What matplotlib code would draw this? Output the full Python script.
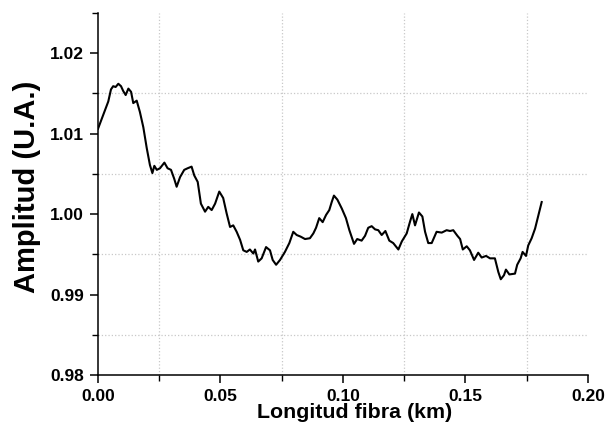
import matplotlib

matplotlib.use('Agg')
import numpy as np
import matplotlib.pyplot as plt
from matplotlib.ticker import MultipleLocator

plt.rcParams['font.family'] = ['Liberation Sans', 'DejaVu Sans']
plt.rcParams['font.weight'] = 'bold'

# fibre length (km) and normalised amplitude
longitud = [0.0000, 0.0042, 0.0053, 0.0062, 0.0072, 0.0083, 0.0094, 0.0103, 0.0113, 0.0124,
            0.0135, 0.0144, 0.0158, 0.0171, 0.0185, 0.0199, 0.0212, 0.0222, 0.0230, 0.0240,
            0.0253, 0.0271, 0.0284, 0.0298, 0.0311, 0.0321, 0.0335, 0.0352, 0.0366, 0.0382,
            0.0393, 0.0407, 0.0420, 0.0437, 0.0450, 0.0464, 0.0478, 0.0495, 0.0511, 0.0525,
            0.0539, 0.0552, 0.0566, 0.0580, 0.0593, 0.0607, 0.0620, 0.0634, 0.0641, 0.0654,
            0.0668, 0.0686, 0.0702, 0.0713, 0.0727, 0.0743, 0.0763, 0.0781, 0.0797, 0.0811,
            0.0827, 0.0845, 0.0865, 0.0879, 0.0890, 0.0903, 0.0917, 0.0931, 0.0944, 0.0954,
            0.0963, 0.0977, 0.0995, 0.1012, 0.1026, 0.1045, 0.1058, 0.1076, 0.1090, 0.1103,
            0.1117, 0.1131, 0.1144, 0.1158, 0.1173, 0.1189, 0.1205, 0.1226, 0.1240, 0.1260,
            0.1273, 0.1283, 0.1294, 0.1310, 0.1324, 0.1335, 0.1348, 0.1362, 0.1382, 0.1403,
            0.1423, 0.1437, 0.1450, 0.1467, 0.1478, 0.1489, 0.1505, 0.1518, 0.1535, 0.1552,
            0.1566, 0.1584, 0.1600, 0.1620, 0.1634, 0.1644, 0.1657, 0.1665, 0.1679, 0.1702,
            0.1711, 0.1725, 0.1733, 0.1747, 0.1756, 0.1770, 0.1784, 0.1811]
amplitud = [1.0106, 1.0140, 1.0155, 1.0159, 1.0158, 1.0162, 1.0159, 1.0153, 1.0148, 1.0156,
            1.0152, 1.0138, 1.0141, 1.0127, 1.0108, 1.0082, 1.0061, 1.0051, 1.0060, 1.0055,
            1.0057, 1.0064, 1.0057, 1.0055, 1.0044, 1.0034, 1.0046, 1.0055, 1.0057, 1.0059,
            1.0048, 1.0040, 1.0013, 1.0003, 1.0009, 1.0005, 1.0013, 1.0028, 1.0020, 1.0001,
            0.9984, 0.9986, 0.9978, 0.9968, 0.9955, 0.9953, 0.9956, 0.9951, 0.9956, 0.9941,
            0.9945, 0.9959, 0.9955, 0.9943, 0.9937, 0.9943, 0.9953, 0.9964, 0.9978, 0.9974,
            0.9972, 0.9969, 0.9970, 0.9976, 0.9983, 0.9995, 0.9990, 0.9999, 1.0005, 1.0015,
            1.0023, 1.0018, 1.0007, 0.9995, 0.9980, 0.9963, 0.9969, 0.9967, 0.9973, 0.9983,
            0.9985, 0.9981, 0.9980, 0.9974, 0.9979, 0.9967, 0.9964, 0.9956, 0.9966, 0.9976,
            0.9990, 1.0000, 0.9986, 1.0002, 0.9997, 0.9978, 0.9964, 0.9964, 0.9978, 0.9977,
            0.9980, 0.9979, 0.9980, 0.9973, 0.9969, 0.9956, 0.9960, 0.9955, 0.9943, 0.9952,
            0.9946, 0.9948, 0.9945, 0.9945, 0.9928, 0.9919, 0.9924, 0.9931, 0.9925, 0.9926,
            0.9937, 0.9945, 0.9953, 0.9948, 0.9961, 0.9970, 0.9982, 1.0015]

y_grid = [0.985, 0.995, 1.005, 1.015]

fig = plt.figure(figsize=(6.06, 4.23), dpi=100)
ax = fig.add_axes([0.1617, 0.1135, 0.8086, 0.8558])

ax.plot(longitud, amplitud, '-', color='black', linewidth=1.5, zorder=3)

ax.set_xlim(0.0, 0.20)
ax.set_ylim(0.98, 1.025)
ax.xaxis.set_major_locator(MultipleLocator(0.05))
ax.xaxis.set_minor_locator(MultipleLocator(0.025))
ax.yaxis.set_major_locator(MultipleLocator(0.01))
ax.yaxis.set_minor_locator(MultipleLocator(0.005))
ax.xaxis.set_major_formatter(plt.FormatStrFormatter('%.2f'))
ax.yaxis.set_major_formatter(plt.FormatStrFormatter('%.2f'))

# dotted grid on the minor positions only, nothing along the top edge
ax.grid(False)
ax.xaxis.grid(True, which='minor', linestyle=':', color='#c8c8c8', linewidth=0.9)
for yg in y_grid:
    ax.axhline(yg, linestyle=':', color='#c8c8c8', linewidth=0.9, zorder=1)

for s in ['top', 'right']:
    ax.spines[s].set_visible(False)
for s in ['left', 'bottom']:
    ax.spines[s].set_linewidth(1.1)

ax.tick_params(which='major', direction='out', length=6, width=1.1, labelsize=12.5, pad=4)
ax.tick_params(which='minor', direction='out', length=4, width=1.0)
for lab in ax.get_xticklabels() + ax.get_yticklabels():
    lab.set_fontweight('bold')

ax.set_xlabel('Longitud fibra (km)', fontsize=15.4, fontweight='bold')
ax.xaxis.set_label_coords(0.524, -0.078)
ax.set_ylabel('Amplitud (U.A.)', fontsize=21, fontweight='bold')
ax.yaxis.set_label_coords(-0.116, 0.52)

fig.savefig('out.png', dpi=100)
